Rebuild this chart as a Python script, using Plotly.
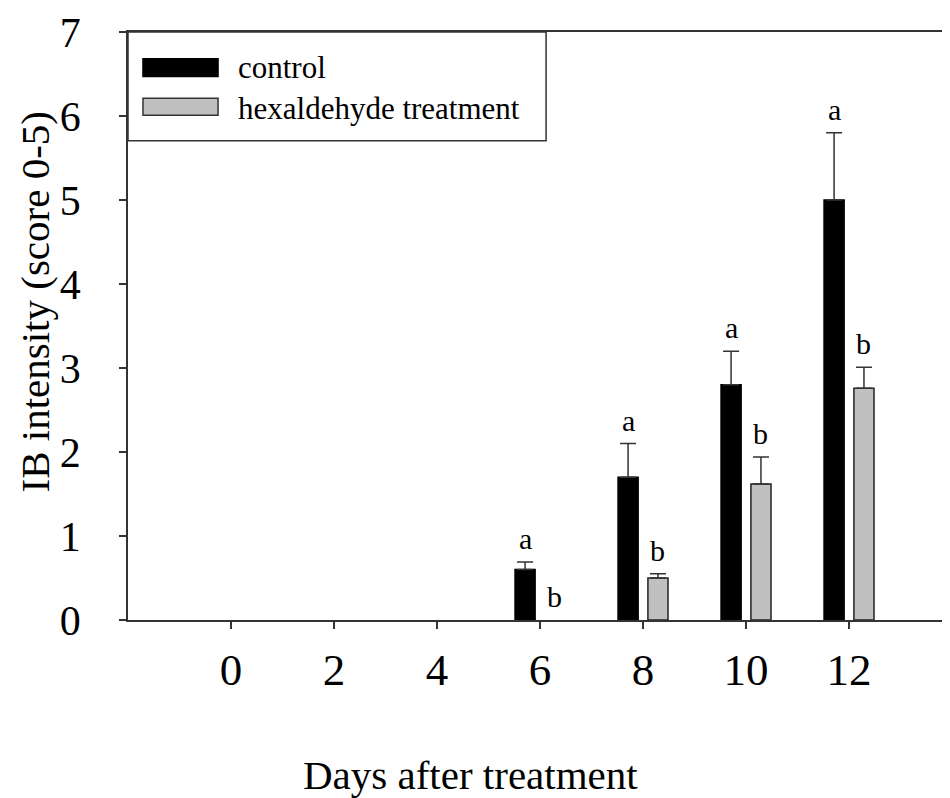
import plotly.graph_objects as go

days = [0, 2, 4, 6, 8, 10, 12]
control = [None, None, None, 0.60, 1.70, 2.80, 5.00]
control_err = [0, 0, 0, 0.09, 0.40, 0.40, 0.80]
hexanal = [None, None, None, None, 0.50, 1.62, 2.76]
hexanal_err = [0, 0, 0, 0, 0.05, 0.32, 0.25]
control_letters = ['', '', '', 'a', 'a', 'a', 'a']
hexanal_letters = ['', '', '', 'b', 'b', 'b', 'b']

font = 'Liberation Serif, Times New Roman, serif'
shift = 0.29   # bar centre offset from the tick, in days
bw = 0.39

fig = go.Figure()

fig.add_trace(go.Bar(
    x=days, y=control, name='control',
    width=bw, offset=-shift - bw / 2,
    marker=dict(color='black', line=dict(color='black', width=1.5)),
    error_y=dict(type='data', array=control_err, arrayminus=[0] * len(days),
                 symmetric=False, color='#333333', thickness=1.5, width=8),
))
fig.add_trace(go.Bar(
    x=days, y=hexanal, name='hexaldehyde treatment',
    width=bw, offset=shift - bw / 2,
    marker=dict(color='#c0c0c0', line=dict(color='#222222', width=1.5)),
    error_y=dict(type='data', array=hexanal_err, arrayminus=[0] * len(days),
                 symmetric=False, color='#333333', thickness=1.5, width=8),
))

# significance letters above the error bars
for d, v, e, t in zip(days, control, control_err, control_letters):
    if t:
        fig.add_annotation(x=d - shift, y=(v or 0) + e, text=t, showarrow=False,
                           yanchor='bottom', yshift=5,
                           font=dict(family=font, size=30, color='black'))
for d, v, e, t in zip(days, hexanal, hexanal_err, hexanal_letters):
    if t:
        fig.add_annotation(x=d + shift, y=(v or 0) + e, text=t, showarrow=False,
                           yanchor='bottom', yshift=5,
                           font=dict(family=font, size=30, color='black'))

# hand drawn legend box (wide swatches like the original)
fig.add_shape(type='rect', xref='paper', yref='paper', x0=0, x1=0.508, y0=0.815, y1=1,
              line=dict(color='#333333', width=1.5), fillcolor='white', layer='above')
fig.add_shape(type='rect', xref='paper', yref='paper', x0=0.0182, x1=0.1094, y0=0.9242, y1=0.9545,
              line=dict(color='black', width=1.5), fillcolor='black', layer='above')
fig.add_shape(type='rect', xref='paper', yref='paper', x0=0.0182, x1=0.1094, y0=0.8586, y1=0.8872,
              line=dict(color='#333333', width=1.5), fillcolor='#c0c0c0', layer='above')
fig.add_annotation(xref='paper', yref='paper', x=0.1312, y=0.9394, text='control',
                   showarrow=False, xanchor='left', yanchor='middle',
                   font=dict(family=font, size=31, color='black'))
fig.add_annotation(xref='paper', yref='paper', x=0.1312, y=0.8704, text='hexaldehyde treatment',
                   showarrow=False, xanchor='left', yanchor='middle',
                   font=dict(family=font, size=31, color='black'))

# axis titles placed by hand, both sit off the plot centre in the original
fig.add_annotation(xref='paper', yref='paper', x=0.4156, y=-0.306, text='Days after treatment',
                   showarrow=False, xanchor='center', yanchor='bottom',
                   font=dict(family=font, size=41, color='black'))
fig.add_annotation(xref='paper', yref='paper', x=-0.113, y=0.54, text='IB intensity (score 0-5)',
                   showarrow=False, xanchor='center', yanchor='middle', textangle=-90,
                   borderpad=0, font=dict(family=font, size=41, color='black'))

fig.update_layout(
    width=950, height=798,
    margin=dict(l=120, r=7, t=24, b=186),
    paper_bgcolor='white', plot_bgcolor='white',
    showlegend=False,
    font=dict(family=font, color='black'),
)
fig.update_xaxes(
    range=[-2.0, 13.98], tickvals=days, ticks='outside', ticklen=7, tickwidth=1.5,
    tickcolor='#333333', tickfont=dict(size=45), ticklabelstandoff=2,
    showline=True, linecolor='#333333', linewidth=1.5, mirror=True,
    showgrid=False, zeroline=False, automargin=False,
)
fig.update_yaxes(
    range=[0, 7], dtick=1, ticks='outside', ticklen=7, tickwidth=1.5,
    tickcolor='#333333', tickfont=dict(size=42), ticklabelstandoff=30,
    ticklabeloverflow='allow',
    showline=True, linecolor='#333333', linewidth=1.5, mirror=True,
    showgrid=False, zeroline=False, automargin=False,
)

fig.write_html("out.html")
